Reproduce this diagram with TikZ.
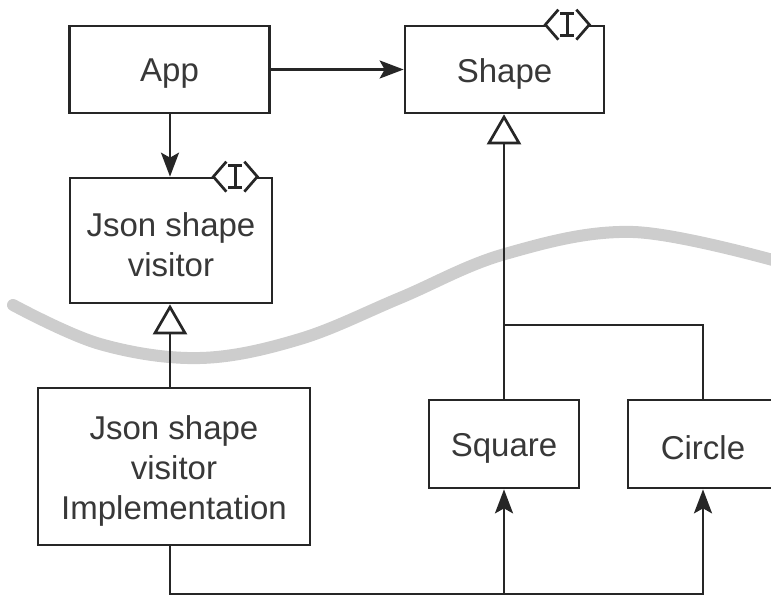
\documentclass[tikz,border=0pt]{standalone}
\usepackage{fontspec}
\setmainfont{Liberation Sans}
\usetikzlibrary{arrows.meta}
\definecolor{ink}{HTML}{262626}
\definecolor{txt}{HTML}{383838}
\definecolor{wave}{HTML}{CDCDCD}
\tikzset{
  box/.style={draw=ink, line width=2.7pt, fill=white, inner sep=0pt},
  lbl/.style={text=txt, align=center, inner sep=0pt, yshift=-4pt,
    font=\fontsize{33}{40}\selectfont},
  conn/.style={draw=ink, line width=2.7pt},
  assoc/.style={conn, -{Stealth[length=24pt,width=18pt,inset=5pt]}},
  inh/.style={conn, -{Triangle[open,length=30pt,width=34pt,fill=white]}},
}
\newcommand\ifcmark[1]{%
  \begin{scope}[shift={(#1)}]
    \fill[white] (-61,0) -- (-47,-16) -- (-29,-16) -- (-15,0) -- (-29,16) -- (-47,16) -- cycle;
    \draw[ink, line width=2.7pt, line join=miter] (-47,-15) -- (-60,0) -- (-47,15);
    \draw[ink, line width=2.7pt, line join=miter] (-29,-15) -- (-16,0) -- (-29,15);
    \draw[ink, line width=2.7pt] (-38,-11) -- (-38,11) (-45,-11) -- (-31,-11) (-45,11) -- (-31,11);
  \end{scope}}
\begin{document}
\begin{tikzpicture}[x=1pt,y=-1pt]
\useasboundingbox (0,0) rectangle (771,596);
\clip (0,0) rectangle (771,596);
% wave
\draw[wave, line width=12pt, line cap=round]
  plot[smooth, tension=0.6] coordinates {(13,305) (100,344) (200,358) (300,339) (400,298) (505,254) (633,232) (780,262)};
% boxes
\node[box, minimum width=200pt, minimum height=87pt, label={[lbl]center:App}] (app) at (169.5,69.5) {};
\node[box, minimum width=199pt, minimum height=87pt, label={[lbl]center:Shape}] (shape) at (504.5,69.5) {};
\node[box, minimum width=202pt, minimum height=125pt, label={[lbl]center:{Json shape\\visitor}}] (json) at (171,240.5) {};
\node[box, minimum width=272pt, minimum height=157pt, label={[lbl]center:{Json shape\\visitor\\Implementation}}] (impl) at (174,466.5) {};
\node[box, minimum width=150pt, minimum height=88pt, label={[lbl]center:Square}] (sq) at (504,444) {};
\node[box, minimum width=150pt, minimum height=88pt, label={[lbl]center:Circle}] (circ) at (703,444) {};
\ifcmark{shape.north east}
\ifcmark{json.north east}
% connectors
\coordinate (j) at (504,325);
\coordinate (b) at (170,594);
\draw[assoc] (app.east) -- (shape.west);
\draw[assoc] (app.south -| b) -- (json.north -| b);
\draw[inh] (impl.north -| b) -- (json.south -| b);
\draw[inh] (sq.north) -- (shape.south -| sq.north);
\draw[conn] (circ.north) |- (j);
\draw[assoc] (impl.south -| b) -- (b) -| (circ.south);
\draw[assoc] (b -| sq.south) -- (sq.south);
\end{tikzpicture}
\end{document}
